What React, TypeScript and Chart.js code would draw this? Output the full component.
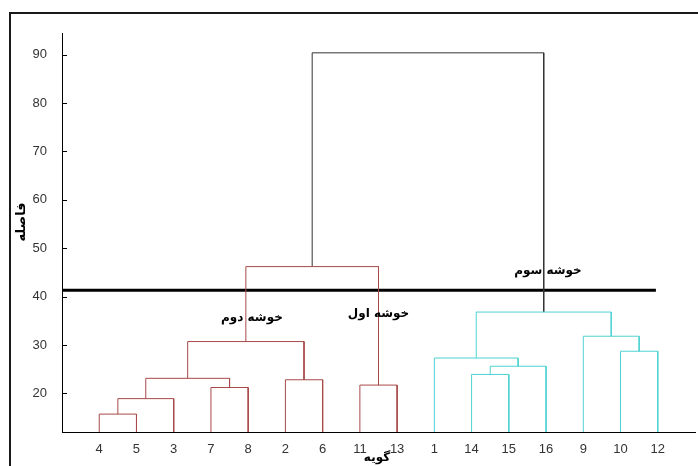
import React, { useEffect, useRef } from "react";
import { Chart, registerables } from "chart.js";

Chart.register(...registerables);

// Leaves in display order (x = 1..16)
const leafLabels = ["4", "5", "3", "7", "8", "2", "6", "11", "13", "1", "14", "15", "16", "9", "10", "12"];
// Merges: node index = 16 + i ; children refer to leaf (0..15) or node indices
const mergeLeft = [0, 16, 3, 17, 5, 19, 7, 21, 10, 24, 9, 14, 13, 26, 23];
const mergeRight = [1, 2, 4, 18, 6, 20, 8, 22, 11, 12, 25, 15, 27, 28, 29];
const mergeHeight = [15.7, 18.9, 21.2, 23.1, 22.8, 30.7, 21.7, 46.2, 23.9, 25.6, 27.3, 28.7, 31.8, 36.8, 90.4];
const mergeGroup = ["red", "red", "red", "red", "red", "red", "red", "red", "cyan", "cyan", "cyan", "cyan", "cyan", "cyan", "top"];
const yTicks = [20, 30, 40, 50, 60, 70, 80, 90];
const yMin = 12;
const yMax = 94.5;
const xMax = 17;
const cutHeight = 41.3;
const cutEnd = 15.95;
const clusterNames = ["خوشه دوم", "خوشه اول", "خوشه سوم"];
const clusterX = [5.1, 8.5, 13.05];
const clusterY = [35.5, 36.5, 45.4];
const yTitle = "فاصله";
const xTitle = "گویه";

const groupColors: Record<string, string> = { red: "#a84848", cyan: "#4fd2d2", top: "#333333" };

export default function App() {
  const ref = useRef<HTMLCanvasElement>(null);
  useEffect(() => {
    if (!ref.current) return;
    const nx: number[] = leafLabels.map((_, i) => i + 1);
    const nh: number[] = leafLabels.map(() => yMin);
    const datasets: any[] = [];
    mergeLeft.forEach((l, i) => {
      const r = mergeRight[i];
      const h = mergeHeight[i];
      nx.push((nx[l] + nx[r]) / 2);
      nh.push(h);
      datasets.push({
        data: [
          { x: nx[l], y: nh[l] },
          { x: nx[l], y: h },
          { x: nx[r], y: h },
          { x: nx[r], y: nh[r] },
        ],
        borderColor: groupColors[mergeGroup[i]],
        borderWidth: 1,
        pointRadius: 0,
        tension: 0,
        fill: false,
      });
    });
    datasets.push({
      data: [
        { x: 0, y: cutHeight },
        { x: cutEnd, y: cutHeight },
      ],
      borderColor: "#000000",
      borderWidth: 3,
      pointRadius: 0,
      fill: false,
    });

    const decor = {
      id: "decor",
      beforeDraw(chart: any) {
        const ctx = chart.ctx;
        ctx.save();
        ctx.fillStyle = "#ffffff";
        ctx.fillRect(0, 0, chart.width, chart.height);
        ctx.strokeStyle = "#1a1a1a";
        ctx.lineWidth = 2;
        ctx.beginPath();
        ctx.moveTo(10, chart.height);
        ctx.lineTo(10, 13);
        ctx.lineTo(chart.width, 13);
        ctx.stroke();
        ctx.restore();
      },
      afterDraw(chart: any) {
        const ctx = chart.ctx;
        const xs = chart.scales.x;
        const ys = chart.scales.y;
        ctx.save();
        ctx.strokeStyle = "#000";
        ctx.lineWidth = 1;
        yTicks.forEach((v) => {
          const py = Math.round(ys.getPixelForValue(v)) + 0.5;
          ctx.beginPath();
          ctx.moveTo(chart.chartArea.left, py);
          ctx.lineTo(chart.chartArea.left + 5, py);
          ctx.stroke();
        });
        ctx.fillStyle = "#000";
        ctx.font = "bold 12px 'DejaVu Sans'";
        ctx.textAlign = "center";
        ctx.textBaseline = "middle";
        clusterNames.forEach((t, i) => {
          ctx.fillText(t, xs.getPixelForValue(clusterX[i]), ys.getPixelForValue(clusterY[i]));
        });
        ctx.font = "bold 12px 'DejaVu Sans'";
        ctx.fillText(xTitle, 377, 458);
        ctx.translate(22, 222);
        ctx.rotate(-Math.PI / 2);
        ctx.font = "bold 13px 'DejaVu Sans'";
        ctx.fillText(yTitle, 0, 0);
        ctx.restore();
      },
    };

    const chart = new Chart(ref.current, {
      type: "line",
      data: { datasets },
      options: {
        animation: false,
        responsive: false,
        layout: { padding: { top: 33, right: 3, left: 0, bottom: 0 } },
        plugins: { legend: { display: false }, tooltip: { enabled: false } },
        scales: {
          x: {
            type: "linear",
            min: 0,
            max: xMax,
            afterFit: (s: any) => {
              s.height = 34;
            },
            afterBuildTicks: (s: any) => {
              s.ticks = leafLabels.map((_, i) => ({ value: i + 1 }));
            },
            ticks: {
              callback: (v: any) => leafLabels[Number(v) - 1] ?? "",
              color: "#333",
              font: { family: "'Liberation Sans'", size: 13 },
              padding: 2,
              maxRotation: 0,
              autoSkip: false,
            },
            grid: { display: false },
            border: { display: true, color: "#000", width: 1 },
          },
          y: {
            type: "linear",
            min: yMin,
            max: yMax,
            afterFit: (s: any) => {
              s.width = 62;
            },
            afterBuildTicks: (s: any) => {
              s.ticks = yTicks.map((v) => ({ value: v }));
            },
            ticks: {
              color: "#333",
              font: { family: "'Liberation Sans'", size: 13 },
              padding: 7,
            },
            grid: { display: false },
            border: { display: true, color: "#000", width: 1 },
          },
        },
      },
      plugins: [decor],
    });
    return () => chart.destroy();
  }, []);
  return (
    <div style={{ position: "fixed", left: 0, top: 0, width: 698, height: 466, background: "#fff" }}>
      <canvas ref={ref} width={698} height={466} style={{ display: "block" }} />
    </div>
  );
}
